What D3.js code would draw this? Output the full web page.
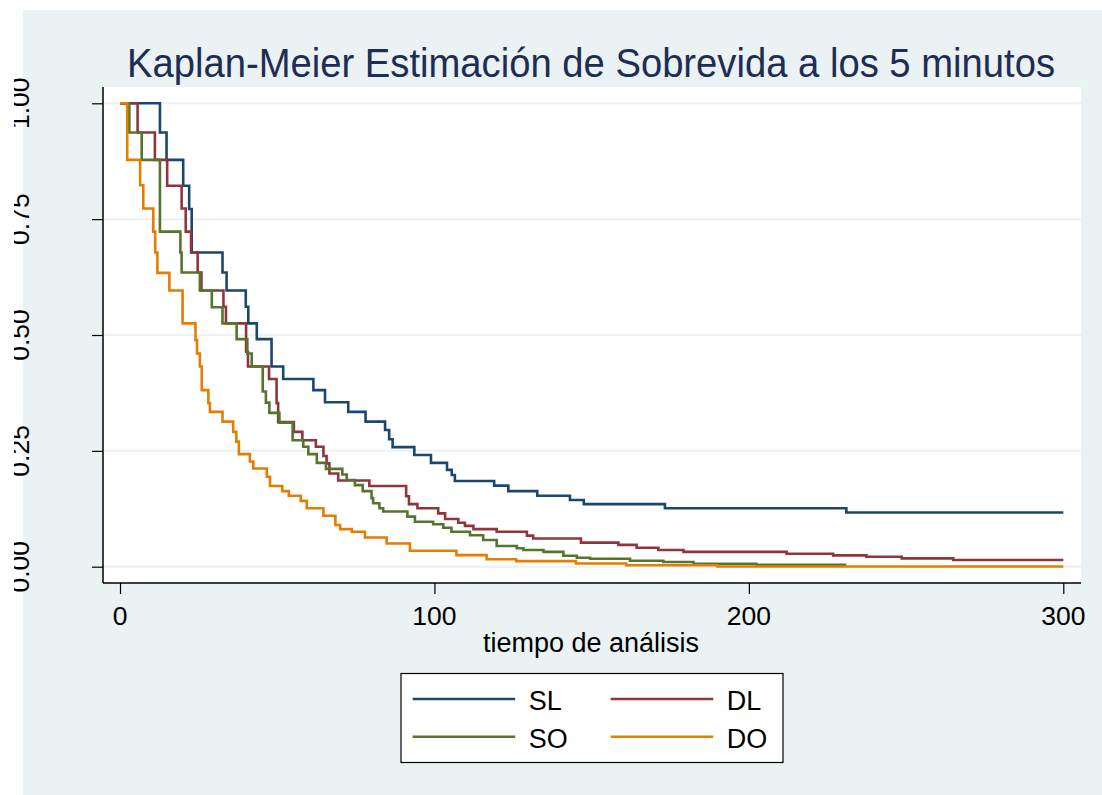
<!DOCTYPE html>
<html>
<head>
  <meta charset="utf-8">
  <script src="https://cdnjs.cloudflare.com/ajax/libs/d3/7.8.5/d3.min.js"></script>
  <title>Kaplan-Meier</title>
  <style>
    body { margin: 0; background: #fff; }
    text { font-family: "Liberation Sans", Arial, sans-serif; }
  </style>
</head>
<body>
<script>
// survival steps (time, S(t))
const slTime = [0, 12.7, 14.8, 20.1, 22.0, 22.8, 32.6, 33.9, 40.0, 40.8, 43.5, 48.2, 51.9, 61.5, 65.2, 72.6, 78.1, 84.3, 85.6, 86.7, 93.6, 98.9, 104, 105.5, 106.5, 119, 123.5, 132.7, 143.1, 147.5, 173.3, 231, 300];
const slSurv = [1, 0.937, 0.878, 0.822, 0.772, 0.678, 0.635, 0.596, 0.561, 0.525, 0.491, 0.432, 0.405, 0.381, 0.355, 0.334, 0.313, 0.295, 0.275, 0.258, 0.241, 0.224, 0.209, 0.198, 0.185, 0.175, 0.163, 0.153, 0.144, 0.135, 0.126, 0.117, 0.117];

const dlTime = [0, 5.6, 11.1, 15.0, 19.6, 20.9, 22.6, 24.7, 25.9, 32.9, 33.7, 40.1, 40.7, 47.4, 49.8, 50.3, 55.3, 58.0, 62.3, 64.7, 65.7, 66.6, 69.4, 79.3, 91.0, 91.9, 94.6, 101.2, 103.4, 107.6, 109.7, 112.4, 119.8, 129.4, 131.4, 146.6, 158.5, 164.3, 171.2, 179.2, 212.0, 226.8, 237.4, 248.6, 265, 300];
const dlSurv = [1, 0.937, 0.878, 0.822, 0.773, 0.723, 0.678, 0.635, 0.596, 0.561, 0.525, 0.464, 0.432, 0.405, 0.353, 0.312, 0.291, 0.273, 0.259, 0.239, 0.223, 0.201, 0.186, 0.174, 0.152, 0.135, 0.126, 0.115, 0.103, 0.095, 0.088, 0.081, 0.0755, 0.067, 0.061, 0.052, 0.047, 0.041, 0.036, 0.032, 0.028, 0.0245, 0.0216, 0.018, 0.0145, 0.0145];

const soTime = [0, 2.96, 6.9, 12.7, 19.2, 19.6, 25.4, 29.2, 32.6, 37.1, 40.5, 41.9, 45.4, 46.4, 47.5, 50.7, 54.9, 58.3, 59.9, 62.6, 65.5, 70.7, 72.1, 74.7, 77.2, 80.0, 80.5, 82.5, 83.7, 91.4, 93.8, 99.6, 102.8, 105.4, 111.3, 115.5, 119.8, 126.2, 128.3, 134.7, 141, 145.3, 149.5, 162.2, 172.8, 182.4, 202.4, 231];
const soSurv = [1, 0.937, 0.878, 0.723, 0.678, 0.635, 0.596, 0.560, 0.525, 0.491, 0.460, 0.432, 0.378, 0.354, 0.332, 0.311, 0.273, 0.259, 0.243, 0.224, 0.211, 0.199, 0.187, 0.176, 0.163, 0.148, 0.137, 0.126, 0.119, 0.108, 0.097, 0.0915, 0.084, 0.0755, 0.068, 0.0576, 0.0447, 0.0397, 0.036, 0.032, 0.0237, 0.0194, 0.0173, 0.013, 0.010, 0.0065, 0.0043, 0.0043];

const doTime = [0, 2.3, 6.4, 7.4, 10.6, 11.2, 11.9, 15.7, 19.9, 24.0, 24.5, 25.4, 26.0, 28.1, 28.6, 32.6, 36.0, 37.0, 37.8, 41.3, 42.4, 46.7, 47.7, 51.6, 53.7, 57.5, 59.4, 64.7, 68.5, 70.0, 73.7, 77.9, 84.8, 92.2, 107, 116.6, 126, 145, 161, 190, 300];
const doSurv = [1, 0.878, 0.823, 0.773, 0.723, 0.678, 0.634, 0.596, 0.525, 0.489, 0.46, 0.432, 0.381, 0.353, 0.334, 0.313, 0.291, 0.27, 0.243, 0.227, 0.212, 0.194, 0.174, 0.163, 0.153, 0.142, 0.126, 0.110, 0.09, 0.081, 0.0755, 0.063, 0.050, 0.0345, 0.025, 0.016, 0.012, 0.007, 0.003, 0.0005, 0.0005];

const groups = ["SL", "DL", "SO", "DO"];
const groupColors = ["#1a476f", "#90353b", "#55752f", "#e37e00"];
const xTicks = [0, 100, 200, 300];
const yTicks = [0, 0.25, 0.5, 0.75, 1];

const series = [
  {name: "SL", t: slTime, s: slSurv},
  {name: "DL", t: dlTime, s: dlSurv},
  {name: "SO", t: soTime, s: soSurv},
  {name: "DO", t: doTime, s: doSurv}
];

const svg = d3.select("body").append("svg")
    .attr("width", 1102)
    .attr("height", 795);

// stata-ish grey panel
svg.append("rect")
    .attr("x", 23).attr("y", 10)
    .attr("width", 1079).attr("height", 785)
    .attr("fill", "#eaf2f3");

const plot = {left: 103, right: 1081, top: 87, bottom: 583};

svg.append("rect")
    .attr("x", plot.left).attr("y", plot.top)
    .attr("width", plot.right - plot.left).attr("height", plot.bottom - plot.top)
    .attr("fill", "#fff");

const x = d3.scaleLinear().domain([0, 300]).range([120, 1063.3]);
const y = d3.scaleLinear().domain([0, 1]).range([566.7, 103.3]);

// gridlines
svg.append("g").selectAll("line")
    .data(yTicks)
    .enter().append("line")
    .attr("x1", plot.left).attr("x2", plot.right)
    .attr("y1", d => y(d)).attr("y2", d => y(d))
    .attr("stroke", "#eaf2f3")
    .attr("stroke-width", 2);

// axes
const yAxis = d3.axisLeft(y).tickValues(yTicks).tickSize(11).tickFormat("");
const gy = svg.append("g")
    .attr("transform", "translate(" + plot.left + ",0)")
    .call(yAxis);
gy.select(".domain").remove();
gy.selectAll("line").attr("stroke", "#000").attr("stroke-width", 1.2);

const xAxis = d3.axisBottom(x).tickValues(xTicks).tickSize(11).tickFormat("");
const gx = svg.append("g")
    .attr("transform", "translate(0," + plot.bottom + ")")
    .call(xAxis);
gx.select(".domain").remove();
gx.selectAll("line").attr("stroke", "#000").attr("stroke-width", 1.2);

svg.append("line")
    .attr("x1", plot.left).attr("x2", plot.left)
    .attr("y1", plot.top).attr("y2", plot.bottom)
    .attr("stroke", "#000").attr("stroke-width", 1.5);
svg.append("line")
    .attr("x1", plot.left).attr("x2", plot.right)
    .attr("y1", plot.bottom).attr("y2", plot.bottom)
    .attr("stroke", "#000").attr("stroke-width", 1.5);

// x tick labels
svg.append("g").selectAll("text")
    .data(xTicks)
    .enter().append("text")
    .attr("x", d => x(d))
    .attr("y", 625)
    .attr("text-anchor", "middle")
    .attr("font-size", 26.5)
    .attr("fill", "#000")
    .text(d => d);

// y tick labels, rotated and cut at the left like the original
svg.append("clipPath").attr("id", "ylab")
  .append("rect").attr("x", 14).attr("y", 0).attr("width", 200).attr("height", 795);

svg.append("g")
    .attr("clip-path", "url(#ylab)")
  .selectAll("text")
    .data(yTicks)
    .enter().append("text")
    .attr("transform", d => "translate(29," + y(d) + ") rotate(-90)")
    .attr("text-anchor", "middle")
    .attr("font-size", 26.5)
    .attr("fill", "#000")
    .text(d => d3.format(".2f")(d));

// curves
const line = d3.line()
    .x(d => x(d[0]))
    .y(d => y(d[1]))
    .curve(d3.curveStepAfter);

svg.append("g").selectAll("path")
    .data(series)
    .enter().append("path")
    .attr("d", d => line(d.t.map((t, i) => [t, d.s[i]])))
    .attr("fill", "none")
    .attr("stroke", (d, i) => groupColors[i])
    .attr("stroke-width", 2.6);

// titles
svg.append("text")
    .attr("x", 591).attr("y", 77)
    .attr("text-anchor", "middle")
    .attr("font-size", 40)
    .attr("textLength", 928)
    .attr("lengthAdjust", "spacingAndGlyphs")
    .attr("fill", "#1e2d53")
    .text("Kaplan-Meier Estimación de Sobrevida a los 5 minutos");

svg.append("text")
    .attr("x", 591).attr("y", 652)
    .attr("text-anchor", "middle")
    .attr("font-size", 27)
    .attr("fill", "#000")
    .text("tiempo de análisis");

// legend
const legend = svg.append("g");
legend.append("rect")
    .attr("x", 401).attr("y", 673.5)
    .attr("width", 382).attr("height", 89)
    .attr("fill", "#fff")
    .attr("stroke", "#000")
    .attr("stroke-width", 1.2);

const colX = [412.7, 610.7];
const rowY = [699, 736.7];

const item = legend.selectAll("g.item")
    .data(groups)
    .enter().append("g")
    .attr("class", "item")
    .attr("transform", (d, i) => "translate(" + colX[i % 2] + "," + rowY[Math.floor(i / 2)] + ")");

item.append("line")
    .attr("x1", 0).attr("x2", 102.5)
    .attr("y1", 0).attr("y2", 0)
    .attr("stroke", (d, i) => groupColors[i])
    .attr("stroke-width", 2.4);

item.append("text")
    .attr("x", 116).attr("y", 11)
    .attr("font-size", 27)
    .attr("fill", "#000")
    .text(d => d);
</script>
</body>
</html>
